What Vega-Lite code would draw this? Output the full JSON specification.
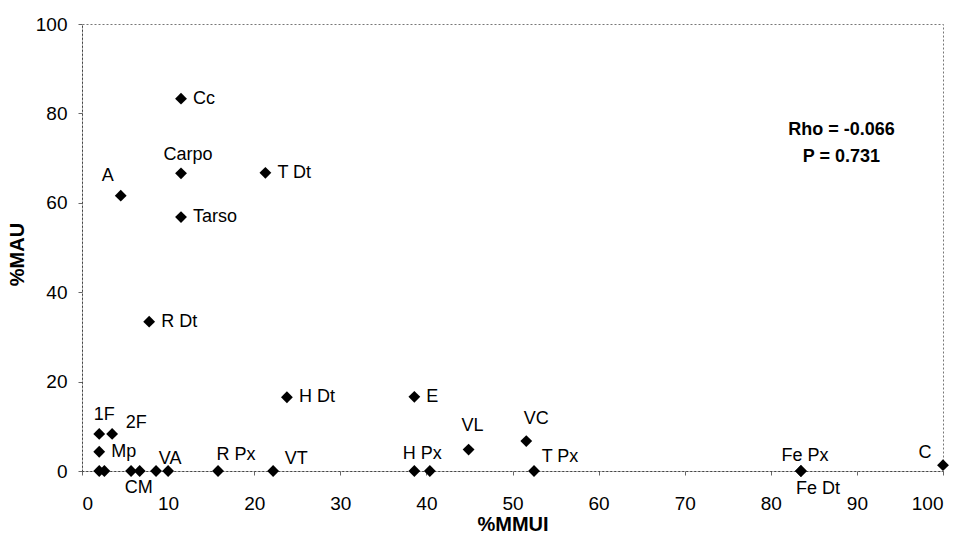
{
  "$schema": "https://vega.github.io/schema/vega-lite/v6.json",
  "width": 861,
  "height": 447,
  "autosize": {"type": "none"},
  "padding": {"left": 82, "top": 24, "right": 28, "bottom": 63},
  "background": "white",
  "config": {
    "font": "Liberation Sans",
    "view": {"stroke": "#777777", "strokeDash": [2, 2], "strokeWidth": 1},
    "axis": {
      "grid": false,
      "domainColor": "#444444",
      "domainDash": [2, 2],
      "tickColor": "#666666",
      "tickSize": 4,
      "labelFont": "Liberation Sans",
      "labelFontSize": 19,
      "labelColor": "black",
      "titleFont": "Liberation Sans",
      "titleFontSize": 20,
      "titleFontWeight": "bold",
      "titleColor": "black"
    }
  },
  "data": {
    "values": [
      {"mmui": 11.5, "mau": 83.3, "label": "Cc"},
      {"mmui": 11.5, "mau": 66.6, "label": "Carpo"},
      {"mmui": 21.3, "mau": 66.7, "label": "T Dt"},
      {"mmui": 4.5, "mau": 61.6, "label": "A"},
      {"mmui": 11.5, "mau": 56.8, "label": "Tarso"},
      {"mmui": 7.8, "mau": 33.4, "label": "R Dt"},
      {"mmui": 23.8, "mau": 16.5, "label": "H Dt"},
      {"mmui": 38.6, "mau": 16.6, "label": "E"},
      {"mmui": 2.0, "mau": 8.3, "label": "1F"},
      {"mmui": 3.5, "mau": 8.3, "label": "2F"},
      {"mmui": 2.0, "mau": 4.3, "label": "Mp"},
      {"mmui": 44.9, "mau": 4.8, "label": "VL"},
      {"mmui": 51.6, "mau": 6.7, "label": "VC"},
      {"mmui": 100, "mau": 1.3, "label": "C"},
      {"mmui": 2.0, "mau": 0, "label": ""},
      {"mmui": 2.6, "mau": 0, "label": ""},
      {"mmui": 5.7, "mau": 0, "label": ""},
      {"mmui": 6.7, "mau": 0, "label": "CM"},
      {"mmui": 8.6, "mau": 0, "label": ""},
      {"mmui": 10.0, "mau": 0, "label": "VA"},
      {"mmui": 15.8, "mau": 0, "label": "R Px"},
      {"mmui": 22.2, "mau": 0, "label": "VT"},
      {"mmui": 38.6, "mau": 0, "label": "H Px"},
      {"mmui": 40.4, "mau": 0, "label": ""},
      {"mmui": 52.5, "mau": 0, "label": "T Px"},
      {"mmui": 83.5, "mau": 0, "label": "Fe Px"},
      {"mmui": 83.5, "mau": 0, "label": "Fe Dt"}
    ]
  },
  "encoding": {
    "x": {"field": "mmui", "type": "quantitative", "scale": {"domain": [0, 100], "nice": false},
      "axis": {"values": [0,10,20,30,40,50,60,70,80,90,100], "title": "%MMUI", "labelPadding": 19, "titlePadding": 1}},
    "y": {"field": "mau", "type": "quantitative", "scale": {"domain": [0, 100], "nice": false},
      "axis": {"values": [0,20,40,60,80,100], "title": "%MAU", "labelPadding": 11, "titlePadding": 8, "titleY": 230}}
  },
  "layer": [
    {"mark": {"type": "point", "shape": "diamond", "filled": true, "color": "black", "size": 140, "opacity": 1, "clip": false}},
    {"transform": [{"filter": {"field": "label", "oneOf": ["Cc", "T Dt", "Tarso", "R Dt", "H Dt", "E", "Mp"]}}],
     "mark": {"type": "text", "align": "left", "baseline": "middle", "dx": 12, "fontSize": 18, "color": "black"},
     "encoding": {"text": {"field": "label"}}},
    {"transform": [{"filter": {"field": "label", "equal": "Carpo"}}],
     "mark": {"type": "text", "align": "center", "baseline": "middle", "dx": 7, "dy": -18, "fontSize": 18, "color": "black"},
     "encoding": {"text": {"field": "label"}}},
    {"transform": [{"filter": {"field": "label", "equal": "A"}}],
     "mark": {"type": "text", "align": "center", "baseline": "middle", "dx": -13, "dy": -20, "fontSize": 18, "color": "black"},
     "encoding": {"text": {"field": "label"}}},
    {"transform": [{"filter": {"field": "label", "equal": "1F"}}],
     "mark": {"type": "text", "align": "center", "baseline": "middle", "dx": 5, "dy": -19, "fontSize": 18, "color": "black"},
     "encoding": {"text": {"field": "label"}}},
    {"transform": [{"filter": {"field": "label", "equal": "2F"}}],
     "mark": {"type": "text", "align": "center", "baseline": "middle", "dx": 24, "dy": -11, "fontSize": 18, "color": "black"},
     "encoding": {"text": {"field": "label"}}},
    {"transform": [{"filter": {"field": "label", "equal": "VA"}}],
     "mark": {"type": "text", "align": "center", "baseline": "middle", "dx": 2, "dy": -12, "fontSize": 18, "color": "black"},
     "encoding": {"text": {"field": "label"}}},
    {"transform": [{"filter": {"field": "label", "equal": "CM"}}],
     "mark": {"type": "text", "align": "center", "baseline": "middle", "dx": -1, "dy": 17, "fontSize": 18, "color": "black"},
     "encoding": {"text": {"field": "label"}}},
    {"transform": [{"filter": {"field": "label", "equal": "R Px"}}],
     "mark": {"type": "text", "align": "center", "baseline": "middle", "dx": 18, "dy": -16, "fontSize": 18, "color": "black"},
     "encoding": {"text": {"field": "label"}}},
    {"transform": [{"filter": {"field": "label", "equal": "VT"}}],
     "mark": {"type": "text", "align": "center", "baseline": "middle", "dx": 23, "dy": -12, "fontSize": 18, "color": "black"},
     "encoding": {"text": {"field": "label"}}},
    {"transform": [{"filter": {"field": "label", "equal": "H Px"}}],
     "mark": {"type": "text", "align": "center", "baseline": "middle", "dx": 8, "dy": -17, "fontSize": 18, "color": "black"},
     "encoding": {"text": {"field": "label"}}},
    {"transform": [{"filter": {"field": "label", "equal": "VL"}}],
     "mark": {"type": "text", "align": "center", "baseline": "middle", "dx": 4, "dy": -24, "fontSize": 18, "color": "black"},
     "encoding": {"text": {"field": "label"}}},
    {"transform": [{"filter": {"field": "label", "equal": "VC"}}],
     "mark": {"type": "text", "align": "center", "baseline": "middle", "dx": 10, "dy": -22, "fontSize": 18, "color": "black"},
     "encoding": {"text": {"field": "label"}}},
    {"transform": [{"filter": {"field": "label", "equal": "T Px"}}],
     "mark": {"type": "text", "align": "center", "baseline": "middle", "dx": 26, "dy": -14, "fontSize": 18, "color": "black"},
     "encoding": {"text": {"field": "label"}}},
    {"transform": [{"filter": {"field": "label", "equal": "Fe Px"}}],
     "mark": {"type": "text", "align": "center", "baseline": "middle", "dx": 4, "dy": -15, "fontSize": 18, "color": "black"},
     "encoding": {"text": {"field": "label"}}},
    {"transform": [{"filter": {"field": "label", "equal": "Fe Dt"}}],
     "mark": {"type": "text", "align": "center", "baseline": "middle", "dx": 17, "dy": 18, "fontSize": 18, "color": "black"},
     "encoding": {"text": {"field": "label"}}},
    {"transform": [{"filter": {"field": "label", "equal": "C"}}],
     "mark": {"type": "text", "align": "center", "baseline": "middle", "dx": -18, "dy": -12, "fontSize": 18, "color": "black"},
     "encoding": {"text": {"field": "label"}}},
    {"data": {"values": [
        {"mmui": 88.2, "mau": 76.3, "stat": "Rho = -0.066"},
        {"mmui": 88.2, "mau": 70.2, "stat": "P = 0.731"}
      ]},
     "mark": {"type": "text", "align": "center", "baseline": "middle", "fontSize": 18, "fontWeight": "bold", "color": "black"},
     "encoding": {"text": {"field": "stat"}}}
  ]
}
